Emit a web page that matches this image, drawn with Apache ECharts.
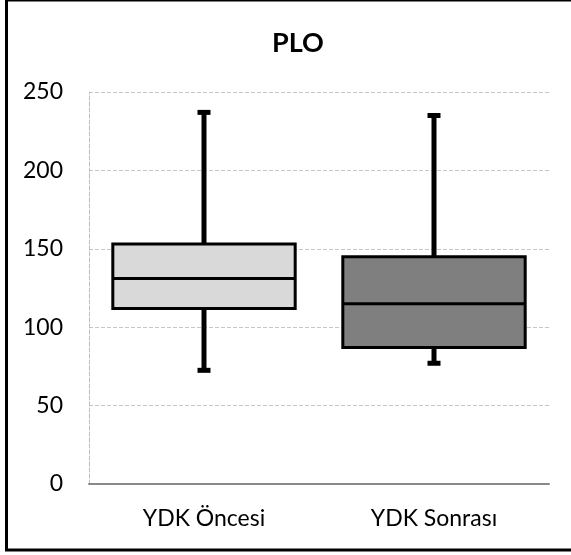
<!DOCTYPE html>
<html>
<head>
<meta charset="utf-8">
<script src="https://cdn.jsdelivr.net/npm/echarts@6/dist/echarts.min.js"></script>
<style>
html,body{margin:0;padding:0;background:#fff;}
#chart{width:571px;height:555px;}
</style>
</head>
<body>
<div id="chart"></div>
<script>
const categories = ['YDK Öncesi', 'YDK Sonrası'];
const minValues = [72.5, 77];
const q1Values = [112, 87];
const medianValues = [131, 115];
const q3Values = [153, 145];
const maxValues = [237, 235];
const yTicks = [0, 50, 100, 150, 200, 250];

const boxFills = ['#d9d9d9', '#7f7f7f'];
const FONT = 'Lato';

const data = categories.map((c, i) => [i, minValues[i], q1Values[i], medianValues[i], q3Values[i], maxValues[i]]);

const chart = echarts.init(document.getElementById('chart'), null, {renderer: 'canvas'});

function renderItem(params, api) {
  const idx = api.value(0);
  const x = api.coord([idx, 0])[0];
  const yMin = api.coord([idx, api.value(1)])[1];
  const yQ1 = api.coord([idx, api.value(2)])[1];
  const yMed = api.coord([idx, api.value(3)])[1];
  const yQ3 = api.coord([idx, api.value(4)])[1];
  const yMax = api.coord([idx, api.value(5)])[1];
  const band = api.size([1, 0])[0];
  const boxW = band * 0.793;
  const capW = 13, capH = 5;
  const black = '#000';
  return {
    type: 'group',
    children: [
      {type: 'line', shape: {x1: x, y1: yQ3, x2: x, y2: yMax}, style: {stroke: black, lineWidth: 5}},
      {type: 'line', shape: {x1: x, y1: yQ1, x2: x, y2: yMin}, style: {stroke: black, lineWidth: 5}},
      {type: 'rect', shape: {x: x - capW / 2, y: yMax - capH / 2, width: capW, height: capH}, style: {fill: black}},
      {type: 'rect', shape: {x: x - capW / 2, y: yMin - capH / 2, width: capW, height: capH}, style: {fill: black}},
      {type: 'rect', shape: {x: x - boxW / 2, y: yQ3, width: boxW, height: yQ1 - yQ3},
        style: {fill: boxFills[idx], stroke: black, lineWidth: 3}},
      {type: 'line', shape: {x1: x - boxW / 2, y1: yMed, x2: x + boxW / 2, y2: yMed}, style: {stroke: black, lineWidth: 3}}
    ]
  };
}

const option = {
  animation: false,
  backgroundColor: '#ffffff',
  title: {
    text: 'PLO',
    left: 267,
    top: 25,
    textStyle: {fontFamily: FONT, fontWeight: 'bold', fontSize: 27, color: '#000'}
  },
  grid: {left: 89, right: 22, top: 92, bottom: 71, containLabel: false},
  xAxis: {
    type: 'category',
    data: categories,
    boundaryGap: true,
    axisLine: {show: true, lineStyle: {color: '#898989', width: 2}},
    axisTick: {show: false},
    axisLabel: {fontFamily: FONT, fontSize: 23, color: '#000', margin: 23},
    splitLine: {show: false}
  },
  yAxis: {
    type: 'value',
    min: yTicks[0],
    max: yTicks[yTicks.length - 1],
    interval: 50,
    axisLine: {show: true, lineStyle: {color: '#bdbdbd', width: 1, type: [4, 2]}},
    axisTick: {show: false},
    axisLabel: {fontFamily: FONT, fontSize: 23, color: '#000', margin: 26},
    splitLine: {show: true, lineStyle: {color: '#c6c6c6', width: 1, type: [4, 2]}}
  },
  graphic: [
    {type: 'rect', z: 100, silent: true, shape: {x: 6.5, y: 0, width: 700, height: 550},
      style: {fill: 'none', stroke: '#000', lineWidth: 3}}
  ],
  series: [{
    type: 'custom',
    renderItem: renderItem,
    encode: {x: 0, y: [1, 2, 3, 4, 5]},
    data: data,
    clip: false
  }]
};
chart.setOption(option);
</script>
</body>
</html>
